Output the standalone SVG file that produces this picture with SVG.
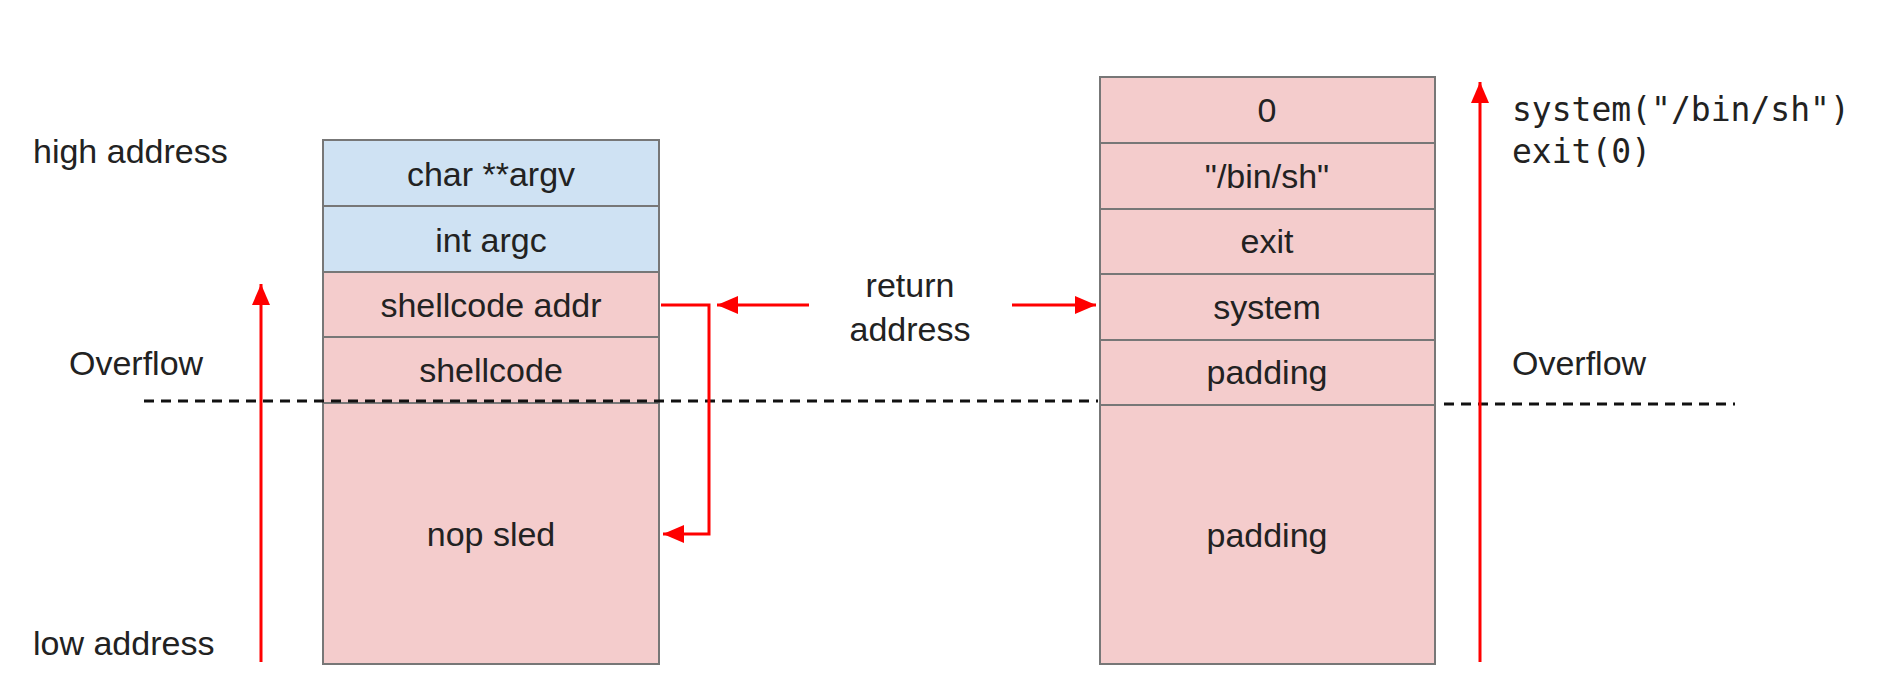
<svg xmlns="http://www.w3.org/2000/svg" width="1878" height="674" viewBox="0 0 1878 674">
<defs>
<style>
.p{fill:#f4cccc;stroke:#777;stroke-width:2}
.b{fill:#cfe2f3;stroke:#777;stroke-width:2}
text{font-family:"Liberation Sans",Arial,sans-serif;font-size:34px;fill:#222}
.c{text-anchor:middle}
.m{font-family:"DejaVu Sans Mono","Liberation Mono",monospace;font-size:33px}
.r{stroke:#f00;stroke-width:3;fill:none}
.d{stroke:#111;stroke-width:3;stroke-dasharray:10 7;fill:none}
</style>
<marker id="a" markerWidth="8" markerHeight="8" refX="7" refY="4" orient="auto" markerUnits="strokeWidth"><path d="M0,1 L7,4 L0,7z" fill="#f00"/></marker>
</defs>
<rect width="1878" height="674" fill="#fff"/>
<g id="left-stack">
<rect class="b" x="323" y="140" width="336" height="66"/><text class="c" x="491" y="186">char **argv</text>
<rect class="b" x="323" y="206" width="336" height="66"/><text class="c" x="491" y="252">int argc</text>
<rect class="p" x="323" y="272" width="336" height="65"/><text class="c" x="491" y="317">shellcode addr</text>
<rect class="p" x="323" y="337" width="336" height="66"/><text class="c" x="491" y="382">shellcode</text>
<rect class="p" x="323" y="403" width="336" height="261"/><text class="c" x="491" y="546">nop sled</text>
</g>
<g id="right-stack">
<rect class="p" x="1100" y="77" width="335" height="66"/><text class="c" x="1267" y="122">0</text>
<rect class="p" x="1100" y="143" width="335" height="66"/><text class="c" x="1267" y="188">"/bin/sh"</text>
<rect class="p" x="1100" y="209" width="335" height="65"/><text class="c" x="1267" y="253">exit</text>
<rect class="p" x="1100" y="274" width="335" height="66"/><text class="c" x="1267" y="319">system</text>
<rect class="p" x="1100" y="340" width="335" height="65"/><text class="c" x="1267" y="384">padding</text>
<rect class="p" x="1100" y="405" width="335" height="259"/><text class="c" x="1267" y="547">padding</text>
</g>
<g id="labels">
<text x="33" y="163">high address</text>
<text x="69" y="375">Overflow</text>
<text x="33" y="655">low address</text>
<text x="1512" y="375">Overflow</text>
<text class="c" x="910" y="297">return</text>
<text class="c" x="910" y="341">address</text>
<text class="m" x="1512" y="121">system("/bin/sh")</text>
<text class="m" x="1512" y="163">exit(0)</text>
</g>
<g id="connectors">
<path class="d" d="M144,401 H1098"/>
<path class="d" d="M1444,404 H1735"/>
<path class="r" d="M261,662 V284" marker-end="url(#a)"/>
<path class="r" d="M1480,662 V82" marker-end="url(#a)"/>
<path class="r" d="M661,305 H709 V534 H663" marker-end="url(#a)"/>
<path class="r" d="M809,305 H717" marker-end="url(#a)"/>
<path class="r" d="M1012,305 H1096" marker-end="url(#a)"/>
</g>
</svg>
